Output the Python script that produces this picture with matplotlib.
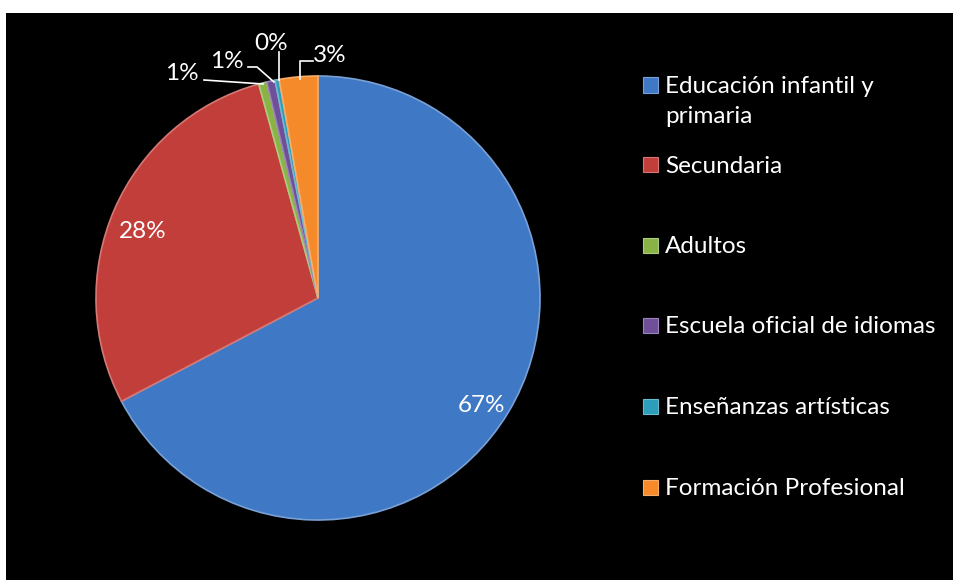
import numpy as np
import matplotlib.pyplot as plt
from matplotlib.patches import Rectangle
from matplotlib.colors import to_rgb

# Datos (porcentaje sobre el total)
categorias = ["Educación infantil y\nprimaria", "Secundaria", "Adultos",
              "Escuela oficial de idiomas", "Enseñanzas artísticas",
              "Formación Profesional"]
valores = [67.3, 28.4, 0.6, 0.6, 0.3, 2.8]
colores = ["#3F78C4", "#C23E3B", "#8AB346", "#6F4F9A", "#2C9DBA", "#F48A2A"]

plt.rcParams['font.family'] = ['Lato', 'DejaVu Sans']
FS = 17.5

W, H = 954, 582
fig = plt.figure(figsize=(W / 100, H / 100), dpi=100)
fig.patch.set_facecolor("white")

# fondo negro
bg = fig.add_axes([6 / W, 2 / H, 947 / W, 567 / H])
bg.set_facecolor("black")
bg.set_xticks([])
bg.set_yticks([])
for s in bg.spines.values():
    s.set_visible(False)

# tarta: centro (318, 298) px, radio 222 px
cx, cy, R = 318, 298, 222
half = 250
ax = fig.add_axes([(cx - half) / W, (H - cy - half) / H, 2 * half / W, 2 * half / H])


def aclarar(c, f=0.35):
    r = np.array(to_rgb(c))
    return tuple(r + (1 - r) * f)


wedges, _ = ax.pie(valores, colors=colores, startangle=90, counterclock=False,
                   radius=1.0,
                   wedgeprops=dict(linewidth=1.2, edgecolor="none"))
for w, c in zip(wedges, colores):
    w.set_edgecolor(aclarar(c, 0.3))
ax.set_xlim(-half / R, half / R)
ax.set_ylim(-half / R, half / R)
ax.set_aspect("equal")
ax.axis("off")

# etiquetas interiores
txt = dict(color="white", fontsize=FS)
for i in (0, 1):
    w = wedges[i]
    ang = np.deg2rad((w.theta1 + w.theta2) / 2)
    ax.text(0.86 * np.cos(ang), 0.86 * np.sin(ang) - 0.04, f"{valores[i]:.0f}%",
            ha="center", va="center", **txt)

# etiquetas exteriores con líneas guía (en coordenadas de la tarta)
def px(x, y):
    return (x - cx) / R, (cy - y) / R

exteriores = {
    2: ((182, 74), [(204, 80), (263, 84)]),
    3: ((227, 61), [(248, 67), (257, 67), (274, 82)]),
    4: ((271, 43), [(279, 52), (279, 80)]),
    5: ((330, 55), [(313, 61), (300, 61), (300, 79)]),
}
for i, (pos, linea) in exteriores.items():
    ax.text(*px(*pos), f"{valores[i]:.0f}%", ha="center", va="center",
            clip_on=False, **txt)
    pts = np.array([px(*p) for p in linea])
    ax.plot(pts[:, 0], pts[:, 1], color="white", lw=1.2, clip_on=False)

# leyenda
leg_y = [85, 165, 245, 325, 406, 487]
for nombre, c, y in zip(categorias, colores, leg_y):
    fig.patches.append(Rectangle((643 / W, (H - y - 7.5) / H), 15 / W, 15 / H,
                                 transform=fig.transFigure, facecolor=c,
                                 edgecolor=aclarar(c, 0.3), lw=0.8))
    fig.text(665 / W, (H - y + 9) / H, nombre, color="white", fontsize=FS,
             ha="left", va="top", linespacing=1.55)

fig.savefig("out.png", dpi=100, facecolor=fig.get_facecolor())
